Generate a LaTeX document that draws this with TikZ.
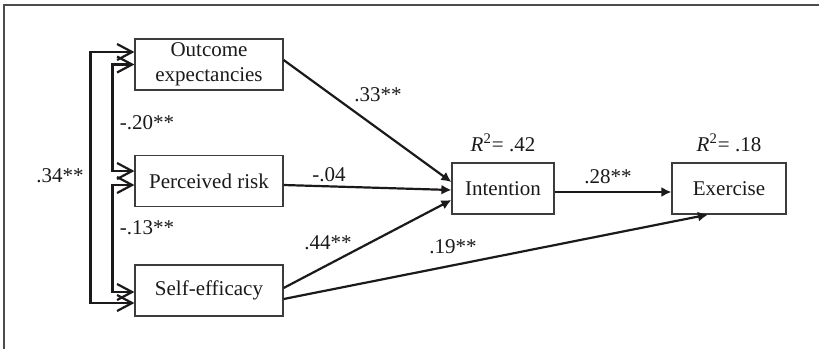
\documentclass[tikz,border=0pt]{standalone}
\usepackage{fontspec}
\setmainfont{Liberation Serif}
\usepackage{xcolor}
\usetikzlibrary{positioning,arrows.meta,calc}
\definecolor{ink}{HTML}{1B1919}
\tikzset{
  var/.style={draw=ink!85, line width=0.6pt, minimum height=25.5pt, inner sep=0pt, align=center, font=\fontsize{10.5}{12.5}\selectfont, text=ink},
  lbl/.style={font=\fontsize{10.5}{12.5}\selectfont, text=ink, inner sep=0pt},
  path/.style={-{Latex[length=5pt,width=5pt]}, ink, line width=1.1pt},
  corr/.style={{Straight Barb[length=7.5pt,width=8pt,line width=1.1pt]}-{Straight Barb[length=7.5pt,width=8pt,line width=1.1pt]}, ink, line width=1.1pt},
}

\begin{document}
\begin{tikzpicture}[x=0.5pt, y=-0.5pt]
\useasboundingbox (0,0) rectangle (819,349);
\draw[gray!60!black, line width=0.8pt] (4,349) -- (4,5) -- (819,5);
% predictors
\node[var, minimum width=74pt] (oe) at (209,64.5) {Outcome\\expectancies};
\node[var, minimum width=74pt] (pr) at (209,181) {Perceived risk};
\node[var, minimum width=74pt] (se) at (209,290.5) {Self-efficacy};
% outcomes
\node[var, minimum width=51pt] (in) at (503,188.5) {Intention};
\node[var, minimum width=57pt] (ex) at (729,188.5) {Exercise};
\node[lbl, above=5pt of in] (r2in) {{\itshape R}\textsuperscript{2}= .42};
\node[lbl, above=5pt of ex] (r2ex) {{\itshape R}\textsuperscript{2}= .18};
% correlations
\draw[corr] ([yshift=6.25pt]oe.west) -- ++(-44,0) |- ([yshift=-6.25pt]se.west);
\draw[corr] (oe.west) -- ++(-22,0) |- ([yshift=5pt]pr.west);
\draw[corr] ([yshift=-2pt]pr.west) -- ++(-22,0) |- ([yshift=-0.75pt]se.west);
\node[lbl] (c34) at (60,176) {.34**};
\node[lbl] (c20) at (147,123) {-.20**};
\node[lbl] (c13) at (147,228) {-.13**};
% paths
\draw[path] ([yshift=2.25pt]oe.east) -- ([yshift=3.25pt]in.west);
\draw[path] ([yshift=-2pt]pr.east) -- ([yshift=-0.75pt]in.west);
\draw[path] ([yshift=1.25pt]se.east) -- ([yshift=-5.75pt]in.west);
\draw[path] ([yshift=-4.25pt]se.east) -- ([xshift=-10.5pt]ex.south);
\draw[path] ([yshift=-1.75pt]in.east) -- ([yshift=-1.75pt]ex.west);
\node[lbl] (b33) at (378,95) {.33**};
\node[lbl] (b04) at (329,175) {-.04};
\node[lbl] (b44) at (328,243) {.44**};
\node[lbl] (b19) at (453,247) {.19**};
\node[lbl] (b28) at (608,177) {.28**};
\end{tikzpicture}
\end{document}
